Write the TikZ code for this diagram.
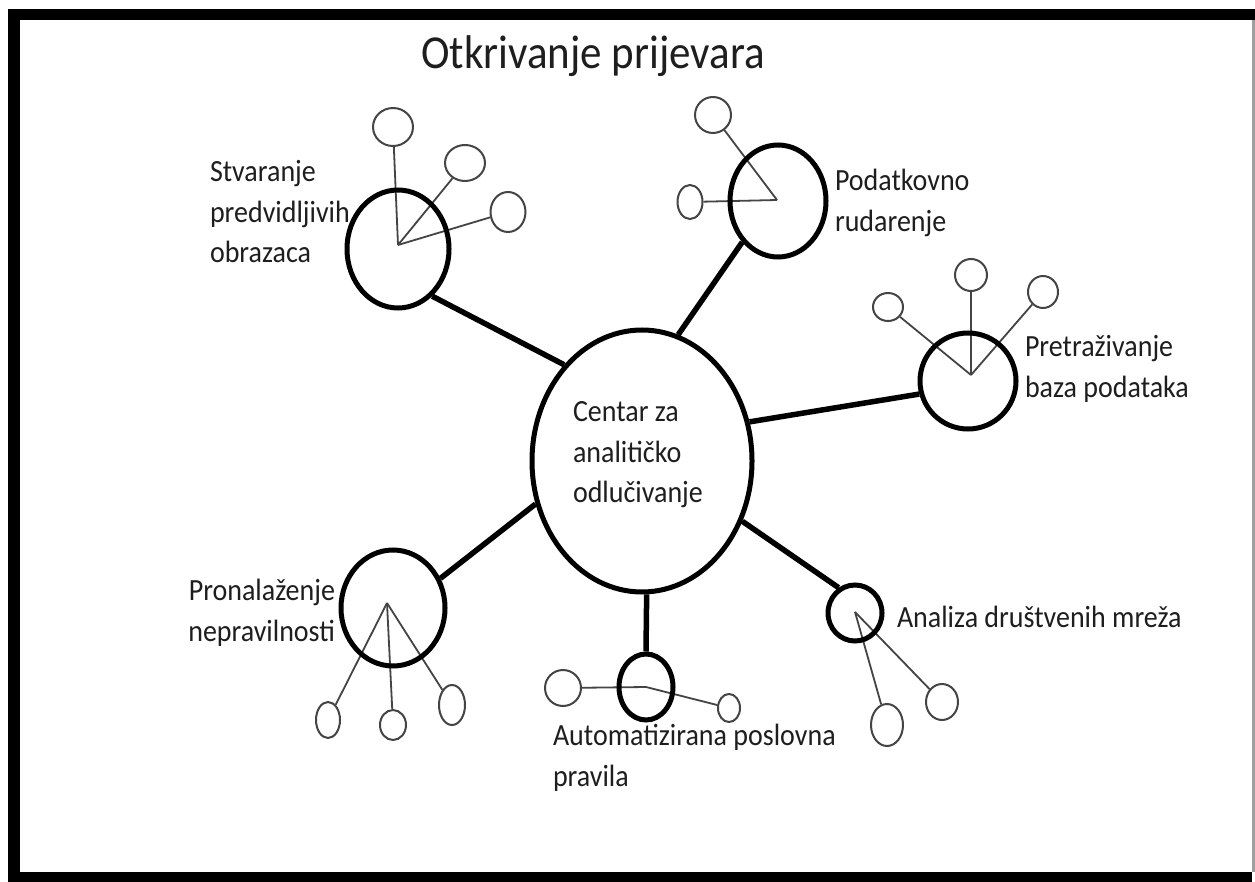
\documentclass[tikz,border=0pt]{standalone}
\usepackage{fontspec}
\setmainfont{Carlito}
\usepackage{graphicx}
\usetikzlibrary{shapes.geometric}
\definecolor{satgray}{HTML}{444444}
\definecolor{txtgray}{HTML}{1E1E1E}
\newcommand\stxt[2]{\scalebox{1}[1.1]{\begin{tabular}{@{}#1@{}}#2\end{tabular}}}
\begin{document}
\begin{tikzpicture}[x=1pt,y=-1pt,
  bigc/.style={draw=black, line width=5pt, ellipse, inner sep=0pt},
  sat/.style={draw=satgray, line width=2pt, ellipse, inner sep=0pt},
  link/.style={line width=5.5pt, draw=black},
  spoke/.style={draw=satgray, line width=1.8pt},
  lbl/.style={inner sep=0pt, outer sep=0pt, font=\fontsize{28}{37}\selectfont, text=txtgray}]
\useasboundingbox (0,0) rectangle (1255,882);
% frame
\fill[black] (8,9) rectangle (1252,882);
\fill[black] (1252,9) rectangle (1255,20);
\fill[white] (20,20) rectangle (1252,872);
\fill[gray!75] (1252.3,20) rectangle (1254.5,872);

% title
\node[lbl, font=\fontsize{43}{50}\selectfont] (title) at (593,58) {\stxt{c}{Otkrivanje prijevara}};

% hubs
\coordinate (h1) at (398,245);
\coordinate (h2) at (777,200);
\coordinate (h3) at (971,375);
\coordinate (h4) at (387,603);
\coordinate (h5) at (646,687);
\coordinate (h6) at (855,612);

% satellites
\node[sat, minimum width=40pt, minimum height=38pt] (s11) at (393,127) {};
\node[sat, minimum width=40pt, minimum height=36pt] (s12) at (465,163) {};
\node[sat, minimum width=35pt, minimum height=40pt] (s13) at (508,212) {};
\node[sat, minimum width=36pt, minimum height=36pt] (s21) at (713,115) {};
\node[sat, minimum width=25pt, minimum height=34pt] (s22) at (690,202) {};
\node[sat, minimum width=30pt, minimum height=28pt] (s31) at (888,307) {};
\node[sat, minimum width=32pt, minimum height=32pt] (s32) at (971,275) {};
\node[sat, minimum width=30pt, minimum height=32pt] (s33) at (1043,292) {};
\node[sat, minimum width=24pt, minimum height=36pt] (s41) at (328,720) {};
\node[sat, minimum width=26pt, minimum height=30pt] (s42) at (393,725) {};
\node[sat, minimum width=26pt, minimum height=40pt] (s43) at (452,705) {};
\node[sat, minimum width=36pt, minimum height=36pt] (s51) at (563,688) {};
\node[sat, minimum width=22pt, minimum height=28pt] (s52) at (729,708) {};
\node[sat, minimum width=32pt, minimum height=42pt] (s61) at (887,725) {};
\node[sat, minimum width=32pt, minimum height=36pt] (s62) at (942,702) {};

% spokes
\draw[spoke] (h1) -- (s11);
\draw[spoke] (h1) -- (s12);
\draw[spoke] (h1) -- (s13);
\draw[spoke] (h2) -- (s21);
\draw[spoke] (h2) -- (s22);
\draw[spoke] (h3) -- (s31);
\draw[spoke] (h3) -- (s32);
\draw[spoke] (h3) -- (s33);
\draw[spoke] (h4) -- (s41);
\draw[spoke] (h4) -- (s42);
\draw[spoke] (h4) -- (s43);
\draw[spoke] (h5) -- (s51);
\draw[spoke] (h5) -- (s52);
\draw[spoke] (h6) -- (s61);
\draw[spoke] (h6) -- (s62);

% circles
\node[bigc, minimum width=220pt, minimum height=262pt] (main) at (642,461) {};
\node[bigc, minimum width=102pt, minimum height=118pt] (c1) at (398,249) {};
\node[bigc, minimum width=96pt, minimum height=112pt] (c2) at (778,201) {};
\node[bigc, minimum width=96pt, minimum height=96pt] (c3) at (968,381) {};
\node[bigc, minimum width=104pt, minimum height=116pt] (c4) at (393,608) {};
\node[bigc, minimum width=54pt, minimum height=66pt] (c5) at (646,687) {};
\node[bigc, minimum width=54pt, minimum height=56pt] (c6) at (855,613) {};

% connectors
\draw[link] (main.129) -- (c1.306);
\draw[link] (main.74) -- (c2.229);
\draw[link] (main.20) -- (c3.195);
\draw[link] (main.202) -- (c4.32);
\draw[link] (main.272) -- (c5.90);
\draw[link] (main.329) -- (c6.123);

% labels
\node[lbl, anchor=west] (mainlbl) at (573,454) {\stxt{l}{Centar za\\analitičko\\odlučivanje}};
\node[lbl, anchor=west] (l1) at (210,214) {\stxt{l}{Stvaranje\\predvidljivih\\obrazaca}};
\node[lbl, anchor=west] (l2) at (835,203) {\stxt{l}{Podatkovno\\rudarenje}};
\node[lbl, anchor=west] (l3) at (1025,369) {\stxt{l}{Pretraživanje\\baza podataka}};
\node[lbl, anchor=east] (l4) at (335,613) {\stxt{r}{Pronalaženje\\nepravilnosti}};
\node[lbl, anchor=west] (l5) at (553,758) {\stxt{l}{Automatizirana poslovna\\pravila}};
\node[lbl, anchor=west] (l6) at (897,619) {\stxt{l}{Analiza društvenih mreža}};
\end{tikzpicture}
\end{document}
